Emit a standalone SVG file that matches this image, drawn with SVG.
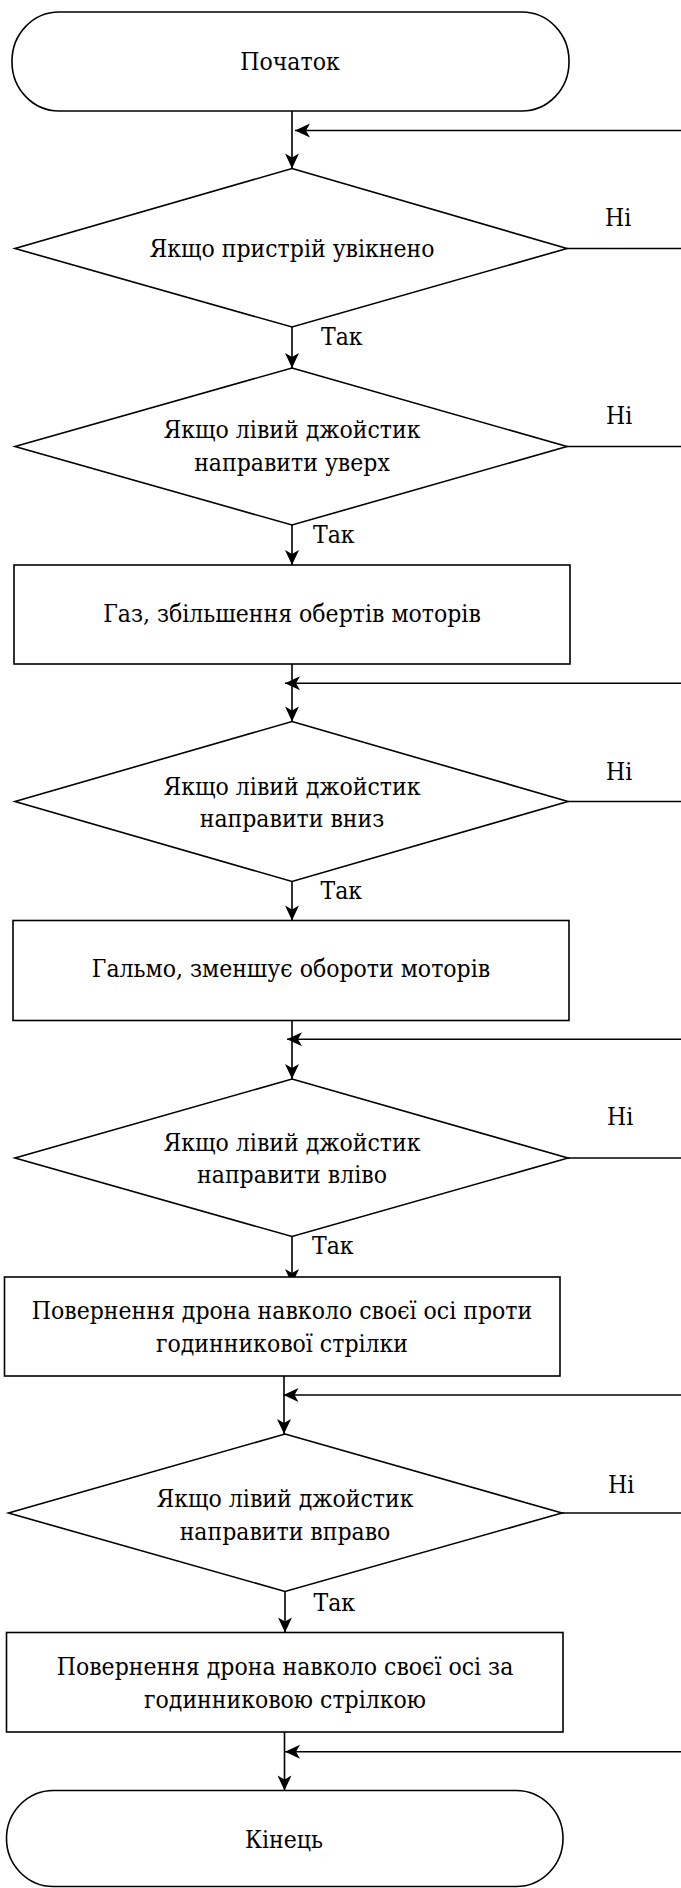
<svg xmlns="http://www.w3.org/2000/svg" width="681" height="1888" viewBox="0 0 681 1888">
  <defs>
    <marker id="arrow" markerUnits="userSpaceOnUse" viewBox="-16 -8 17 16" markerWidth="17" markerHeight="16" refX="0" refY="0" orient="auto">
      <path d="M0,0 L-15,-7 L-11,0 L-15,7 Z" fill="#000"/>
    </marker>
    <style>
      .shape { fill: #fff; stroke: #000; stroke-width: 1.6; }
      .link { fill: none; stroke: #000; stroke-width: 1.6; }
      .arr { marker-end: url(#arrow); }
      .lbl { font-family: "DejaVu Serif Condensed", "DejaVu Serif", serif; font-stretch: condensed; font-size: 24.5px; fill: #000; }
      .mid { text-anchor: middle; }
    </style>
  </defs>

  <rect width="681" height="1888" fill="#fff"/>

  <!-- connectors: main flow, "Ні" exits and loop-back returns -->
  <g id="connectors">
    <path class="link arr" d="M292,111 V168.5"/>
    <path class="link arr" d="M292,327 V368"/>
    <path class="link arr" d="M292,525 V565"/>
    <path class="link arr" d="M292,664 V721.5"/>
    <path class="link arr" d="M292,881.5 V920.5"/>
    <path class="link arr" d="M292,1020.5 V1079"/>
    <path class="link arr" d="M292,1236.5 V1284"/>
    <path class="link arr" d="M284,1376 V1434"/>
    <path class="link arr" d="M285,1591.5 V1632.5"/>
    <path class="link arr" d="M284.5,1732 V1790.5"/>

    <path class="link" d="M567,248.5 H681"/>
    <path class="link" d="M567,446.5 H681"/>
    <path class="link" d="M568,801.5 H681"/>
    <path class="link" d="M568,1158 H681"/>
    <path class="link" d="M562,1513 H681"/>

    <path class="link arr" d="M681,130.5 H295"/>
    <path class="link arr" d="M681,683.3 H285"/>
    <path class="link arr" d="M681,1039.3 H287"/>
    <path class="link arr" d="M681,1395 H283.5"/>
    <path class="link arr" d="M681,1751.7 H285"/>

    <text class="lbl" x="605" y="226">Ні</text>
    <text class="lbl" x="606" y="424">Ні</text>
    <text class="lbl" x="606" y="780">Ні</text>
    <text class="lbl" x="607" y="1125">Ні</text>
    <text class="lbl" x="608" y="1493">Ні</text>

    <text class="lbl" x="321" y="345">Так</text>
    <text class="lbl" x="313" y="542.5">Так</text>
    <text class="lbl" x="320.5" y="899">Так</text>
    <text class="lbl" x="312" y="1254">Так</text>
    <text class="lbl" x="313.5" y="1611">Так</text>
  </g>

  <g id="start">
    <rect class="shape" x="12" y="12" width="557" height="99" rx="47" ry="49"/>
    <text class="lbl mid" x="290" y="70">Початок</text>
  </g>

  <g id="check-power">
    <polygon class="shape" points="292,168.5 567,248.5 292,327 15,248.5"/>
    <text class="lbl mid" x="292" y="257">Якщо пристрій увікнено</text>
  </g>

  <g id="check-up">
    <polygon class="shape" points="292,368 567,446.5 292,525 15,446.5"/>
    <text class="lbl mid" x="292" y="438">Якщо лівий джойстик</text>
    <text class="lbl mid" x="292" y="471">направити уверх</text>
  </g>

  <g id="throttle">
    <rect class="shape" x="14" y="565" width="556" height="99"/>
    <text class="lbl mid" x="292" y="622">Газ, збільшення обертів моторів</text>
  </g>

  <g id="check-down">
    <polygon class="shape" points="292,721.5 568,801.5 292,881.5 15,801.5"/>
    <text class="lbl mid" x="292" y="795">Якщо лівий джойстик</text>
    <text class="lbl mid" x="292" y="827">направити вниз</text>
  </g>

  <g id="brake">
    <rect class="shape" x="13" y="920.5" width="556" height="100"/>
    <text class="lbl mid" x="291" y="977">Гальмо, зменшує обороти моторів</text>
  </g>

  <g id="check-left">
    <polygon class="shape" points="292,1079 568,1158 292,1236.5 15,1158"/>
    <text class="lbl mid" x="292" y="1151">Якщо лівий джойстик</text>
    <text class="lbl mid" x="292" y="1183">направити вліво</text>
  </g>

  <g id="yaw-left">
    <rect class="shape" x="4.5" y="1277" width="555.5" height="99"/>
    <text class="lbl mid" x="282" y="1318.5">Повернення дрона навколо своєї осі проти</text>
    <text class="lbl mid" x="282" y="1351.5">годинникової стрілки</text>
  </g>

  <g id="check-right">
    <polygon class="shape" points="285,1434 562,1513 285,1591.5 8.5,1513"/>
    <text class="lbl mid" x="285" y="1507">Якщо лівий джойстик</text>
    <text class="lbl mid" x="285" y="1540">направити вправо</text>
  </g>

  <g id="yaw-right">
    <rect class="shape" x="6.5" y="1632.5" width="556.5" height="99.5"/>
    <text class="lbl mid" x="285" y="1675">Повернення дрона навколо своєї осі за</text>
    <text class="lbl mid" x="285" y="1708">годинниковою стрілкою</text>
  </g>

  <g id="end">
    <rect class="shape" x="6.5" y="1790.5" width="556.5" height="96" rx="47" ry="48"/>
    <text class="lbl mid" x="284" y="1848">Кінець</text>
  </g>
</svg>
